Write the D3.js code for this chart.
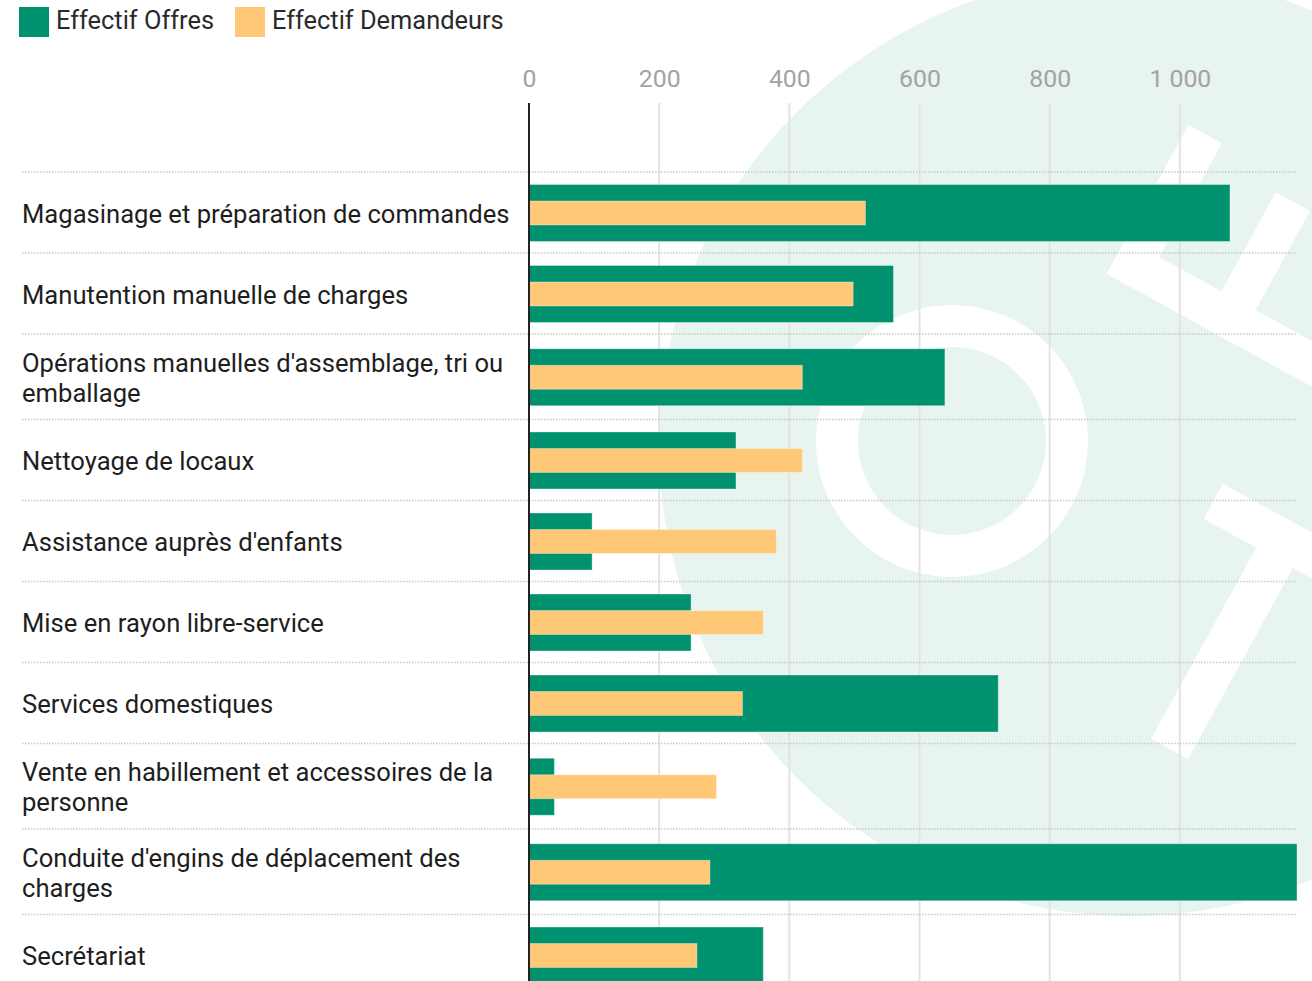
<!DOCTYPE html>
<html>
<head>
<meta charset="utf-8">
<script src="https://cdn.jsdelivr.net/npm/d3@7"></script>
<style>
  body { margin: 0; background: #fff; }
  svg { display: block; font-family: Roboto, "Noto Sans", sans-serif; }
</style>
</head>
<body>
<svg id="chart" width="1312" height="981"></svg>
<script>
// Métiers et effectifs (offres vs demandeurs)
const categories = [
  "Magasinage et préparation de commandes",
  "Manutention manuelle de charges",
  "Opérations manuelles d'assemblage, tri ou emballage",
  "Nettoyage de locaux",
  "Assistance auprès d'enfants",
  "Mise en rayon libre-service",
  "Services domestiques",
  "Vente en habillement et accessoires de la personne",
  "Conduite d'engins de déplacement des charges",
  "Secrétariat"
];
const offres = [1077, 560, 639, 318, 97, 249, 721, 39, 1180, 360];
const demandeurs = [517, 498, 420, 420, 380, 360, 328, 288, 278, 258];
const tickValues = [0, 200, 400, 600, 800, 1000];
const seriesNames = ["Effectif Offres", "Effectif Demandeurs"];
const seriesColors = ["#00916f", "#fec877"];

const W = 1312, H = 981;
const svg = d3.select("#chart");

const frFormat = d3.formatLocale({
  decimal: ",", thousands: " ", grouping: [3], currency: ["", " €"]
}).format(",");

// Plot geometry
const plotLeft = 529, plotRight = 1297, plotTop = 103, firstRowTop = 172;
const labelX = 22, labelMaxWidth = 500, lineHeight = 30, labelSize = 25.6;

const x = d3.scaleLinear().domain([0, 1180]).range([plotLeft, plotRight]);

// ---- Background watermark ----
const bg = svg.append("g").attr("class", "watermark");
bg.append("circle").attr("cx", 1130).attr("cy", 445).attr("r", 471).attr("fill", "#e7f4f0");
const logo = bg.append("g").attr("transform", "translate(952,441) rotate(28.8)");
logo.append("circle").attr("r", 115).attr("fill", "none").attr("stroke", "#fff").attr("stroke-width", 42);
const logoRects = [
  [55, -391, 38, 170], [55, -261, 600, 40], [164, -374, 39, 153],
  [258, -93, 400, 40], [318, -93, 42, 258]
];
logo.selectAll("rect").data(logoRects).join("rect")
  .attr("x", d => d[0]).attr("y", d => d[1])
  .attr("width", d => d[2]).attr("height", d => d[3])
  .attr("fill", "#fff");

// ---- Wrap category labels to get line counts ----
const labelsG = svg.append("g").attr("class", "labels");
const measure = labelsG.append("text").attr("font-size", labelSize).attr("visibility", "hidden");
function wrapLines(str) {
  const words = str.split(" ");
  const lines = [];
  let cur = "";
  words.forEach(w => {
    const test = cur ? cur + " " + w : w;
    measure.text(test);
    if (measure.node().getComputedTextLength() > labelMaxWidth && cur) {
      lines.push(cur); cur = w;
    } else cur = test;
  });
  if (cur) lines.push(cur);
  return lines;
}
const wrapped = categories.map(wrapLines);
measure.remove();

// Row layout: taller rows for two-line labels
const rows = [];
let yTop = firstRowTop;
wrapped.forEach((lines, i) => {
  const h = lines.length > 1 ? 85.5 : 81;
  rows.push({ cat: categories[i], lines, top: yTop, h, center: yTop + h / 2, off: offres[i], dem: demandeurs[i] });
  yTop += h;
});

// ---- Grid lines ----
svg.append("g").selectAll("line").data(tickValues.filter(v => v > 0)).join("line")
  .attr("x1", d => x(d)).attr("x2", d => x(d))
  .attr("y1", plotTop).attr("y2", H)
  .attr("stroke", "#e3e3e3").attr("stroke-width", 2);

// ---- Row separators (dotted) ----
svg.append("g").selectAll("line").data(rows).join("line")
  .attr("x1", labelX).attr("x2", plotRight)
  .attr("y1", d => d.top).attr("y2", d => d.top)
  .attr("stroke", "#c8c8c8").attr("stroke-width", 1.5)
  .attr("stroke-dasharray", "1.5,1.5");

// ---- Bars ----
const bars = svg.append("g");
bars.selectAll("rect.off").data(rows).join("rect").attr("class", "off")
  .attr("x", x(0)).attr("y", d => d.center - 28)
  .attr("width", d => x(d.off) - x(0)).attr("height", 57)
  .attr("fill", seriesColors[0])
  .attr("stroke", "rgba(255,255,255,0.35)").attr("stroke-width", 1);
bars.selectAll("rect.dem").data(rows).join("rect").attr("class", "dem")
  .attr("x", x(0)).attr("y", d => d.center - 11.5)
  .attr("width", d => x(d.dem) - x(0)).attr("height", 24)
  .attr("fill", seriesColors[1])
  .attr("stroke", "rgba(255,255,255,0.35)").attr("stroke-width", 1);

// ---- Zero axis line ----
svg.append("line")
  .attr("x1", x(0)).attr("x2", x(0)).attr("y1", plotTop).attr("y2", H)
  .attr("stroke", "#222").attr("stroke-width", 2);

// ---- Top axis labels ----
const axis = d3.axisTop(x).tickValues(tickValues).tickSize(0).tickPadding(16)
  .tickFormat(d => frFormat(d));
const axG = svg.append("g").attr("transform", `translate(0,${plotTop})`).call(axis);
axG.select(".domain").remove();
axG.selectAll("text").attr("font-size", 24.8).attr("fill", "#a3a3a3")
  .attr("font-family", "Roboto, sans-serif");

// ---- Category labels ----
rows.forEach(r => {
  const n = r.lines.length;
  const t = labelsG.append("text").attr("font-size", labelSize).attr("fill", "#1e1e1e");
  r.lines.forEach((ln, j) => {
    t.append("tspan").attr("x", labelX)
      .attr("y", r.center + 10 + (j - (n - 1) / 2) * lineHeight)
      .text(ln);
  });
});

// ---- Legend ----
const legend = svg.append("g");
const legendX = [19, 235];
seriesNames.forEach((name, i) => {
  legend.append("rect").attr("x", legendX[i]).attr("y", 7).attr("width", 30).attr("height", 30)
    .attr("fill", seriesColors[i]);
  legend.append("text").attr("x", legendX[i] + 37).attr("y", 29)
    .attr("font-size", 25.4).attr("fill", "#2a2a2a").text(name);
});
</script>
</body>
</html>
